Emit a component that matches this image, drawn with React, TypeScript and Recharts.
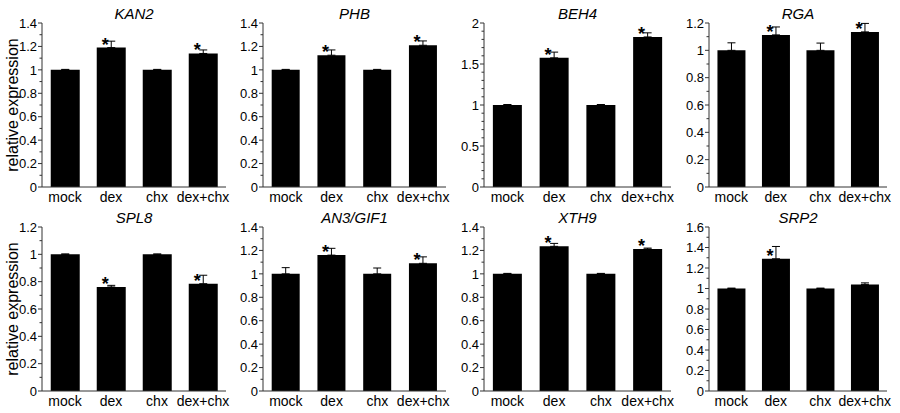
import { BarChart, Bar, XAxis, YAxis, ErrorBar, LabelList } from 'recharts'

const CATEGORIES = ['mock', 'dex', 'chx', 'dex+chx']
const GENES = ['KAN2', 'PHB', 'BEH4', 'RGA', 'SPL8', 'AN3/GIF1', 'XTH9', 'SRP2']

const KAN2_VALUES = [1, 1.19, 1, 1.14]
const KAN2_ERRORS = [0.004, 0.055, 0.004, 0.03]
const PHB_VALUES = [1, 1.125, 1, 1.21]
const PHB_ERRORS = [0.004, 0.045, 0.004, 0.037]
const BEH4_VALUES = [1, 1.575, 1, 1.83]
const BEH4_ERRORS = [0.006, 0.07, 0.006, 0.05]
const RGA_VALUES = [1, 1.113, 1, 1.135]
const RGA_ERRORS = [0.055, 0.058, 0.053, 0.062]
const SPL8_VALUES = [1, 0.761, 1, 0.785]
const SPL8_ERRORS = [0.003, 0.012, 0.003, 0.062]
const AN3_VALUES = [1, 1.16, 1, 1.09]
const AN3_ERRORS = [0.053, 0.058, 0.05, 0.055]
const XTH9_VALUES = [1, 1.235, 1, 1.212]
const XTH9_ERRORS = [0.004, 0.025, 0.004, 0.008]
const SRP2_VALUES = [1, 1.29, 1, 1.04]
const SRP2_ERRORS = [0.004, 0.12, 0.004, 0.015]

const STARS_BOTH = [false, true, false, true]
const STARS_DEX = [false, true, false, false]

const TICKS_14 = [0, 0.2, 0.4, 0.6, 0.8, 1, 1.2, 1.4]
const TICKS_12 = [0, 0.2, 0.4, 0.6, 0.8, 1, 1.2]
const TICKS_16 = [0, 0.2, 0.4, 0.6, 0.8, 1, 1.2, 1.4, 1.6]
const TICKS_20 = [0, 0.5, 1, 1.5, 2]

const panels = [
  { gene: GENES[0], values: KAN2_VALUES, errors: KAN2_ERRORS, stars: STARS_BOTH, ticks: TICKS_14 },
  { gene: GENES[1], values: PHB_VALUES, errors: PHB_ERRORS, stars: STARS_BOTH, ticks: TICKS_14 },
  { gene: GENES[2], values: BEH4_VALUES, errors: BEH4_ERRORS, stars: STARS_BOTH, ticks: TICKS_20 },
  { gene: GENES[3], values: RGA_VALUES, errors: RGA_ERRORS, stars: STARS_BOTH, ticks: TICKS_12 },
  { gene: GENES[4], values: SPL8_VALUES, errors: SPL8_ERRORS, stars: STARS_BOTH, ticks: TICKS_12 },
  { gene: GENES[5], values: AN3_VALUES, errors: AN3_ERRORS, stars: STARS_BOTH, ticks: TICKS_14 },
  { gene: GENES[6], values: XTH9_VALUES, errors: XTH9_ERRORS, stars: STARS_BOTH, ticks: TICKS_14 },
  { gene: GENES[7], values: SRP2_VALUES, errors: SRP2_ERRORS, stars: STARS_DEX, ticks: TICKS_16 },
]

// plot box geometry
const COL_LEFT = [42, 263, 484, 709]
const COL_WIDTH = [184, 183, 187, 178]
const ROW_TOP = [23, 227]
const BOX_H = 164
const MT = 12
const MR = 30
const XH = 28
const FONT = '"Liberation Sans", Arial, Helvetica, sans-serif'
const AXIS = '#333'

const fmt = (v: number) => String(Number(v.toFixed(2)))

function YTick(props: any) {
  const { x, y, payload, majors } = props
  const v = payload.value
  const major = majors.some((m: number) => Math.abs(m - v) < 1e-6)
  return (
    <g>
      <line x1={x - (major ? 4 : 2.5)} x2={x} y1={y} y2={y} stroke={AXIS} strokeWidth={1} />
      {major && (
        <text x={x - 5} y={y} dy="0.36em" textAnchor="end" fontSize={13} fill="#000" fontFamily={FONT}>
          {fmt(v)}
        </text>
      )}
    </g>
  )
}

function Panel({ idx }: { idx: number }) {
  const p = panels[idx]
  const col = idx % 4
  const row = Math.floor(idx / 4)
  const yw = col === 0 ? 42 : 36
  const left = COL_LEFT[col] - yw
  const top = ROW_TOP[row] - MT
  const width = yw + COL_WIDTH[col] + MR
  const height = MT + BOX_H + XH
  const max = p.ticks[p.ticks.length - 1]
  const minor: number[] = []
  for (let i = 0; i <= Math.round(max * 10); i++) minor.push(i / 10)
  const data = CATEGORIES.map((name, i) => ({
    name,
    value: p.values[i],
    err: [0, p.errors[i]],
    star: p.stars[i],
  }))

  return (
    <>
      <div
        style={{
          position: 'absolute',
          left: COL_LEFT[col],
          width: COL_WIDTH[col],
          top: ROW_TOP[row] - 17,
          textAlign: 'center',
          fontStyle: 'italic',
          fontSize: 15,
          lineHeight: '16px',
          fontFamily: FONT,
          zIndex: 1,
        }}
      >
        {p.gene}
      </div>
      <div style={{ position: 'absolute', left, top }}>
        <BarChart
          width={width}
          height={height}
          data={data}
          margin={{ top: MT, right: MR, bottom: 0, left: 0 }}
          barCategoryGap="19%"
          style={{ overflow: 'visible' }}
        >
          <XAxis
            dataKey="name"
            interval={0}
            tickLine={false}
            tickSize={0}
            tickMargin={5}
            height={XH}
            axisLine={{ stroke: AXIS }}
            tick={{ fontSize: 14, fill: '#000', fontFamily: FONT }}
          />
          <XAxis xAxisId="top" dataKey="name" orientation="top" height={0} tick={false} tickLine={false} axisLine={{ stroke: AXIS }} />
          <YAxis
            domain={[0, max]}
            ticks={minor}
            interval={0}
            width={yw}
            tickSize={0}
            tickMargin={0}
            tickLine={false}
            axisLine={{ stroke: AXIS }}
            tick={(tp: any) => <YTick {...tp} majors={p.ticks} />}
            label={
              col === 0
                ? {
                    value: 'relative expression',
                    angle: -90,
                    position: 'insideLeft',
                    offset: 12,
                    style: { textAnchor: 'middle', fontSize: 16, fill: '#000', fontFamily: FONT },
                  }
                : undefined
            }
          />
          <YAxis yAxisId="right" orientation="right" domain={[0, max]} width={0} tick={false} tickLine={false} axisLine={{ stroke: AXIS }} />
          <Bar dataKey="value" fill="#000" isAnimationActive={false}>
            <ErrorBar dataKey="err" direction="y" width={4} stroke="#000" strokeWidth={1} isAnimationActive={false} />
            <LabelList
              dataKey="star"
              content={(lp: any) => {
                const { x, y, width: w, index } = lp
                if (!p.stars[index]) return null
                return (
                  <text x={x + w / 2 - 6} y={y + 3} textAnchor="middle" fontSize={18} fontWeight="bold" fill="#000" fontFamily={FONT}>
                    *
                  </text>
                )
              }}
            />
          </Bar>
        </BarChart>
      </div>
    </>
  )
}

export default function App() {
  return (
    <div
      style={{
        position: 'absolute',
        left: 0,
        top: 0,
        width: 900,
        height: 413,
        background: '#fff',
        fontFamily: FONT,
      }}
    >
      {panels.map((_, i) => (
        <Panel key={i} idx={i} />
      ))}
    </div>
  )
}
